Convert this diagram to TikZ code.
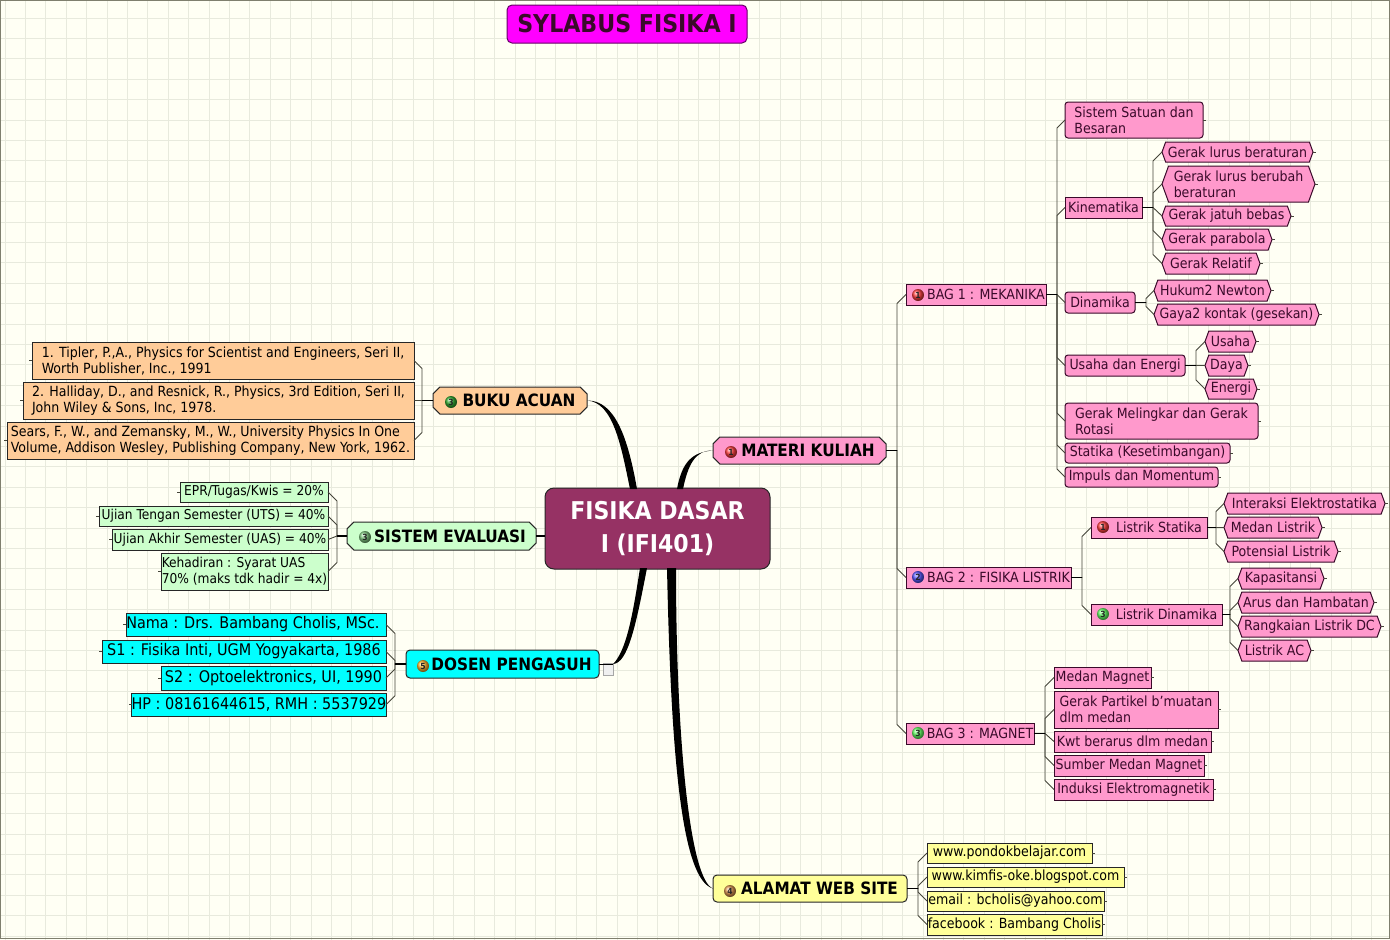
\documentclass[tikz,border=0pt]{standalone}
\usepackage{fontspec}
\setmainfont{DejaVu Sans Condensed}
\usepackage{tikz}
\usetikzlibrary{calc, shapes.misc, shapes.symbols}
\definecolor{paper}{HTML}{FFFFF4}
\definecolor{gridline}{HTML}{E8EADD}
\definecolor{edgeline}{HTML}{7F7F6E}
\definecolor{plum}{HTML}{963264}
\definecolor{titlefill}{HTML}{FF00FF}
\definecolor{pinkfill}{HTML}{FF99CC}
\definecolor{peachfill}{HTML}{FFCC99}
\definecolor{mintfill}{HTML}{CCFFCC}
\definecolor{cyanfill}{HTML}{00FFFF}
\definecolor{lemonfill}{HTML}{FFFF99}
\definecolor{inkplum}{HTML}{3A0A2A}
\definecolor{trunkline}{HTML}{45453A}
\newcommand{\fs}[1]{\fontsize{#1}{16}\selectfont}

\begin{document}
\begin{tikzpicture}[
    x=1pt, y=1pt,
    corners/.style n args={4}{at={({(#1+#3)/2},{-(#2+#4)/2})},
      minimum width={(#3-#1)*1pt}, minimum height={(#4-#2)*1pt}},
    mapbox/.style={draw=black!85, line width=1pt, inner sep=0pt, outer sep=0pt, align=left},
    leaf/.style={mapbox, font=\fs{14}},
    tightleaf/.style={leaf, font=\fs{13.6}},
    pinkleaf/.style={leaf, fill=pinkfill, text=inkplum, draw=inkplum},
    pinkround/.style={pinkleaf, rounded corners=3pt},
    pinkhex/.style={pinkleaf, signal, signal to=west and east, signal pointer angle=140},
    topic/.style={mapbox, font=\fs{17}\bfseries},
    cuttopic/.style={topic, chamfered rectangle, chamfered rectangle xsep=3.2pt, chamfered rectangle angle=45},
    badge/.style={circle, inner sep=0pt, minimum size=12pt, shading=ball, ball color=#1, font=\fs{8.5}\bfseries, text=black!85},
    linkline/.style={trunkline, line width=0.9pt},
    stubline/.style={black, line width=1.5pt},
    limb/.style={fill=black},
    fork/.style={to path={let \p1=(\tikztostart), \p2=(\tikztotarget),
      \n1={abs(\x2-\x1-#1pt)}, \n2={min(abs(\y2-\y1),\n1)*sign(\y2-\y1)} in
      -- ({\x1+#1pt},\y1) -- ({\x1+#1pt},\y2-\n2) -- (\x2,\y2)}},
  ]
  \useasboundingbox (0,0) rectangle (1390,-940);
  % --- paper and grid -------------------------------------------------
  \fill[paper] (0,0) rectangle (1390,-940);
  \foreach \i in {0,...,67} {
    \draw[gridline, line width=0.8pt] ({5+20.4*\i},0) -- ({5+20.4*\i},-940);
  }
  \foreach \i in {0,...,45} {
    \draw[gridline, line width=0.8pt] (0,{-18-20.4*\i}) -- (1390,{-18-20.4*\i});
  }
  \draw[edgeline, line width=1.5pt] (0.5,-0.5) rectangle (1389.5,-938.5);
  % --- title and centre -----------------------------------------------
  \node[mapbox, corners={507}{5}{747}{43}, fill=titlefill, draw=black!60!titlefill, rounded corners=5pt,
    font=\fs{24.6}\bfseries, text=inkplum] (title) {SYLABUS FISIKA I};
  \node[mapbox, corners={545}{488}{770}{569}, fill=plum, rounded corners=9pt, align=center,
    font=\fontsize{24.5}{33}\selectfont\bfseries, text=white] (root) {FISIKA DASAR\\I (IFI401)};
  % --- first level ----------------------------------------------------
  \node[cuttopic, corners={713}{437}{886}{464}, fill=pinkfill] (materi) {\hspace*{17pt}MATERI KULIAH};
  \node[cuttopic, corners={433}{387}{587}{414}, fill=peachfill] (buku) {\hspace*{18pt}BUKU ACUAN};
  \node[cuttopic, corners={347}{522}{536}{550}, fill=mintfill] (sistem) {\hspace*{17pt}SISTEM EVALUASI};
  \node[topic, corners={406}{650}{599}{678}, fill=cyanfill, rounded corners=4pt] (dosen) {\hspace*{18pt}DOSEN PENGASUH};
  \node[topic, corners={713}{875}{907}{902}, fill=lemonfill, rounded corners=4pt] (alamat) {\hspace*{19pt}ALAMAT WEB SITE};
  \node[draw=black!35, fill=black!6, inner sep=0pt, minimum width=10pt, minimum height=12pt] (note) at (608,-669) {};
  \coordinate (dosenout) at (dosen.east -| note.east);
  % --- pink boxes -----------------------------------------------------
  \foreach \nm/\xa/\ya/\xb/\yb/\txt in {
    bagone/906/284/1046/305/{\hspace*{20pt}BAG 1 : MEKANIKA},
    bagtwo/906/567/1071/588/{\hspace*{20pt}BAG 2 : FISIKA LISTRIK},
    bagthree/906/723/1034/744/{\hspace*{20pt}BAG 3 : MAGNET},
    kinematika/1065/197/1142/218/{Kinematika},
    statlist/1091/517/1207/538/{\hspace*{20pt}Listrik Statika},
    dinlist/1091/604/1222/625/{\hspace*{20pt}Listrik Dinamika},
    medan/1054/667/1151/688/{Medan Magnet},
    partikel/1054/691/1218/728/{Gerak Partikel b'muatan\\dlm medan},
    kwt/1054/731/1211/752/{Kwt berarus dlm medan},
    sumber/1054/755/1204/776/{Sumber Medan Magnet},
    induksi/1054/779/1213/800/{Induksi Elektromagnetik}} {
    \node[pinkleaf, corners={\xa}{\ya}{\xb}{\yb}] (\nm) {\txt};
  }
  \foreach \nm/\xa/\ya/\xb/\yb/\txt in {
    satuan/1065/102/1203/138/{Sistem Satuan dan\\Besaran},
    dinamika/1065/292/1135/313/{Dinamika},
    usahaen/1065/355/1185/376/{Usaha dan Energi},
    melingkar/1065/403/1258/439/{Gerak Melingkar dan Gerak\\Rotasi},
    statika/1065/443/1230/463/{Statika (Kesetimbangan)},
    impuls/1065/467/1218/487/{Impuls dan Momentum}} {
    \node[pinkround, corners={\xa}{\ya}{\xb}{\yb}] (\nm) {\txt};
  }
  \foreach \nm/\xa/\ya/\xb/\yb/\txt in {
    glb/1162/142/1313/162/{Gerak lurus beraturan},
    glbb/1162/166/1315/202/{Gerak lurus berubah\\beraturan},
    jatuh/1162/206/1291/226/{Gerak jatuh bebas},
    parabola/1162/229/1272/250/{Gerak parabola},
    relatif/1162/253/1260/274/{Gerak Relatif},
    hukum/1154/280/1271/301/{Hukum2 Newton},
    gaya/1154/304/1319/325/{Gaya2 kontak (gesekan)},
    usaha/1205/331/1256/352/{Usaha},
    daya/1205/355/1248/376/{Daya},
    energi/1205/379/1257/399/{Energi},
    interaksi/1224/493/1385/514/{Interaksi Elektrostatika},
    medanl/1224/517/1322/538/{Medan Listrik},
    potensial/1224/541/1338/562/{Potensial Listrik},
    kapasitansi/1238/568/1324/589/{Kapasitansi},
    arus/1238/592/1374/613/{Arus dan Hambatan},
    rangkaian/1238/616/1381/637/{Rangkaian Listrik DC},
    listrikac/1238/640/1311/661/{Listrik AC}} {
    \node[pinkhex, corners={\xa}{\ya}{\xb}{\yb}] (\nm) {\txt};
  }
  % --- left leaves ----------------------------------------------------
  \foreach \nm/\xa/\ya/\xb/\yb/\txt in {
    tipler/32/342/414/379/{1. Tipler, P.,A., Physics for Scientist and Engineers, Seri II,\\Worth Publisher, Inc., 1991},
    halliday/23/382/414/419/{2. Halliday, D., and Resnick, R., Physics, 3rd Edition, Seri II,\\John Wiley \& Sons, Inc, 1978.},
    sears/7/422/414/459/{Sears, F., W., and Zemansky, M., W., University Physics In One\\Volume, Addison Wesley, Publishing Company, New York, 1962.}} {
    \node[leaf, fill=peachfill, corners={\xa}{\ya}{\xb}{\yb}] (\nm) {\txt};
  }
  \foreach \nm/\xa/\ya/\xb/\yb/\txt in {
    epr/180/482/328/502/{EPR/Tugas/Kwis = 20\%},
    uts/99/506/328/526/{Ujian Tengan Semester (UTS) = 40\%},
    uas/112/529/328/550/{Ujian Akhir Semester (UAS) = 40\%},
    hadir/161/553/328/590/{Kehadiran : Syarat UAS\\70\% (maks tdk hadir = 4x)}} {
    \node[tightleaf, fill=mintfill, corners={\xa}{\ya}{\xb}{\yb}] (\nm) {\txt};
  }
  \foreach \nm/\xa/\ya/\xb/\yb/\txt in {
    nama/126/613/386/636/{Nama : Drs. Bambang Cholis, MSc. },
    sone/102/640/386/663/{S1 : Fisika Inti, UGM Yogyakarta, 1986},
    stwo/161/666/386/690/{S2 : Optoelektronics, UI, 1990},
    hp/132/693/386/716/{HP : 08161644615, RMH : 5537929}} {
    \node[leaf, fill=cyanfill, font=\fs{16}, corners={\xa}{\ya}{\xb}{\yb}] (\nm) {\txt};
  }
  % --- web leaves -----------------------------------------------------
  \foreach \nm/\xa/\ya/\xb/\yb/\txt in {
    pondok/927/843/1092/863/{www.pondokbelajar.com},
    kimfis/927/867/1124/887/{www.kimfis-oke.blogspot.com},
    email/927/891/1104/911/{email : bcholis@yahoo.com},
    facebook/927/914/1102/935/{facebook : Bambang Cholis}} {
    \node[leaf, fill=lemonfill, corners={\xa}{\ya}{\xb}{\yb}] (\nm) {\txt};
  }
  % --- badges ---------------------------------------------------------
  \foreach \nm/\bx/\by/\col/\num in {
    bmateri/731/452/red!75/1, bbuku/451/402/green!60!black!80/3, bsistem/365/537/green!40!gray!70/3,
    bdosen/423/666/orange!70!yellow!80/5, balamat/730/891/orange!70!gray!80/4,
    bone/918/295/red!75/1, btwo/918/577/blue!65/2, bthree/918/733/green!60/3,
    bstat/1103/527/red!75/1, bdin/1103/614/green!60/3} {
    \node[badge=\col] (\nm) at (\bx,-\by) {\num};
  }
  % --- forks to the right ---------------------------------------------
  \foreach \up/\off/\kids in {
    materi/11/{bagone,bagtwo,bagthree},
    bagone/11/{satuan,kinematika,dinamika,usahaen,melingkar,statika,impuls},
    kinematika/11/{glb,glbb,jatuh,parabola,relatif},
    dinamika/11/{hukum,gaya},
    usahaen/11/{usaha,daya,energi},
    bagtwo/11/{statlist,dinlist},
    statlist/9/{interaksi,medanl,potensial},
    dinlist/8/{kapasitansi,arus,rangkaian,listrikac},
    bagthree/11/{medan,partikel,kwt,sumber,induksi},
    alamat/11/{pondok,kimfis,email,facebook}} {
    \foreach \kid in \kids {
      \draw[linkline, fork=\off] (\up.east) to (\kid.west);
    }
    \draw[stubline] (\up.east) -- ++(\off,0);
  }
  % --- forks to the left ----------------------------------------------
  \foreach \up/\off/\kids in {
    buku/-11/{tipler,halliday,sears},
    sistem/-10/{epr,uts,uas,hadir},
    dosen/-11/{nama,sone,stwo,hp}} {
    \foreach \kid in \kids {
      \draw[linkline, fork=\off] (\up.west) to (\kid.east);
    }
    \draw[stubline] (\up.west) -- ++(\off,0);
  }
  % --- little tails on the free side of leaves ------------------------
  \foreach \kid in {satuan,glb,glbb,jatuh,parabola,relatif,hukum,gaya,usaha,daya,energi,melingkar,statika,impuls,
    interaksi,medanl,potensial,kapasitansi,arus,rangkaian,listrikac,medan,partikel,kwt,sumber,induksi,
    pondok,kimfis,email,facebook} {
    \draw[linkline] (\kid.east) -- ++(3,0);
  }
  \foreach \kid in {tipler,halliday,sears,epr,uts,uas,hadir,nama,sone,stwo,hp} {
    \draw[linkline] (\kid.west) -- ++(-3,0);
  }
  % --- thick limbs into the centre ------------------------------------
  \fill[limb] (buku.east) .. controls (615,-400) and (628,-438) .. ($(root.north west)+(92,-1)$)
    -- ($(root.north west)+(85,-1)$) .. controls (621,-445) and (613,-402) .. (buku.east);
  \fill[limb] (materi.west) .. controls (695,-450) and (688,-465) .. ($(root.north west)+(138,-1)$)
    -- ($(root.north west)+(132,-1)$) .. controls (682,-462) and (692,-452) .. (materi.west);
  \draw[black, line width=1.8pt] (sistem.east) -- (sistem.east -| root.west);
  \draw[black, line width=0.8pt] (dosen.east) -- (dosenout);
  \fill[limb] (dosenout) .. controls (628,-663) and (636,-625) .. ($(root.south west)+(102,1)$)
    -- ($(root.south west)+(95,1)$) .. controls (632,-620) and (626,-650) .. (dosenout);
  \fill[limb] (alamat.west) .. controls (690,-880) and (676,-740) .. ($(root.south west)+(131,1)$)
    -- ($(root.south west)+(122,1)$) .. controls (671,-760) and (682,-880) .. (alamat.west);
\end{tikzpicture}
\end{document}
